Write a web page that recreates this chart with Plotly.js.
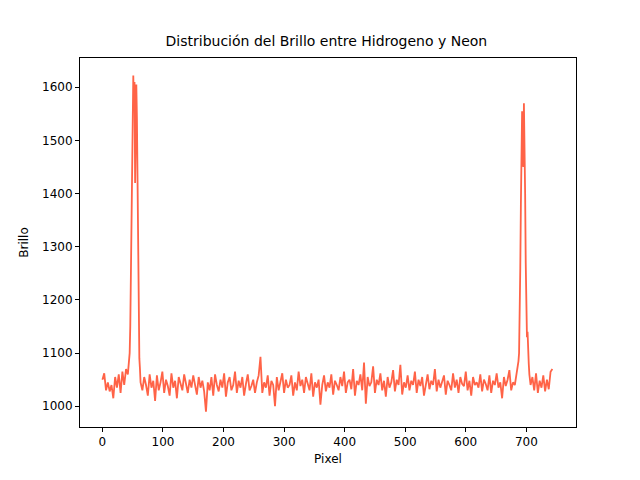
<!DOCTYPE html>
<html><head><meta charset="utf-8">
<script src="https://cdn.plot.ly/plotly-3.0.1.min.js"></script>
<style>body{margin:0}</style></head>
<body><div id="plot" style="width:640px;height:480px"></div>
<script>
// pixel positions (step 3 in the flat parts, step 1 across the two lines)
var startX = [0,3,6,9,12,15,18,21,24,27,30,33,36,39,42];
var startY = [1050,1062,1030,1045,1028,1040,1015,1055,1035,1060,1025,1065,1040,1070,1060];

var peak1X = [44,45,46,47,48,49,50,51,52,53,54,55,56,57,58,59,60,61,62];
var peak1Y = [1080,1100,1150,1250,1380,1480,1560,1622,1560,1610,1420,1600,1605,1540,1380,1230,1130,1090,1070];

var midY = [1045,1030,1055,1040,1020,1060,1035,1048,1010,1058,1030,1045,1065,1025,1050,1038,1020,1062,1035,1048,
            1015,1055,1040,1030,1060,1042,1025,1050,1035,1058,1040,1022,1055,1035,1048,1028,990,1045,1030,1055,
            1020,1060,1040,1028,1050,1035,1062,1018,1045,1055,1030,1040,1065,1025,1048,1035,1055,1020,1042,1060,
            1030,1038,1050,1025,1045,1058,1093,1025,1045,1035,1058,1020,1048,1040,1000,1055,1030,1045,1062,1025,
            1050,1035,1040,1058,1020,1045,1030,1065,1038,1050,1025,1055,1040,1030,1062,1018,1045,1035,1050,1003,
            1040,1058,1028,1045,1035,1060,1022,1048,1040,1030,1055,1038,1065,1025,1045,1050,1032,1070,1020,1048,
            1040,1060,1030,1082,1005,1055,1038,1045,1075,1025,1050,1040,1062,1030,1048,1018,1055,1035,1045,1068,
            1028,1050,1040,1078,1022,1045,1035,1058,1030,1048,1040,1065,1025,1050,1038,1055,1020,1045,1060,1032,
            1048,1040,1070,1028,1050,1035,1045,1058,1022,1048,1040,1030,1062,1035,1050,1025,1055,1042,1038,1065,
            1030,1048,1020,1055,1040,1045,1035,1060,1028,1050,1042,1030,1058,1025,1048,1040,1062,1035,1045,1015,
            1055,1038,1050,1068,1030,1045,1040,1060];

var peak2X = [686,687,688,689,690,691,692,693,694,695,696,697,698,699,700,701,702,703,704,705];
var peak2Y = [1075,1085,1100,1150,1260,1380,1480,1555,1470,1450,1570,1510,1400,1270,1180,1130,1140,1090,1080,1060];

var endY = [1040,1055,1030,1062,1025,1048,1035,1058,1028,1050,1032,1065,1070];

var pixel = [], brillo = [];
startX.forEach(function (x, i) { pixel.push(x); brillo.push(startY[i]); });
peak1X.forEach(function (x, i) { pixel.push(x); brillo.push(peak1Y[i]); });
midY.forEach(function (v, i) { pixel.push(63 + 3 * i); brillo.push(v); });
peak2X.forEach(function (x, i) { pixel.push(x); brillo.push(peak2Y[i]); });
endY.forEach(function (v, i) { pixel.push(707 + 3 * i); brillo.push(v); });

var trace = {
  x: pixel, y: brillo, mode: 'lines', type: 'scatter',
  line: { color: '#ff6347', width: 1.8 }
};

var axis = {
  showgrid: false, zeroline: false, showline: true, mirror: true,
  linecolor: 'black', linewidth: 1, ticks: 'outside', ticklen: 4,
  tickcolor: 'black', tickfont: { size: 12, color: 'black' }
};

var layout = {
  width: 640, height: 480,
  margin: { l: 80, r: 64, t: 58, b: 53 },
  font: { family: 'DejaVu Sans', color: 'black' },
  title: { text: 'Distribución del Brillo entre Hidrogeno y Neon', font: { size: 14 }, x: 0.51, y: 0.925 },
  xaxis: Object.assign({}, axis, { range: [-37, 782], tickvals: [0,100,200,300,400,500,600,700],
    title: { text: 'Pixel', font: { size: 12 }, standoff: 6 } }),
  yaxis: Object.assign({}, axis, { range: [961, 1655], tickvals: [1000,1100,1200,1300,1400,1500,1600],
    title: { text: 'Brillo', font: { size: 12 }, standoff: 10 } }),
  showlegend: false,
  plot_bgcolor: 'white', paper_bgcolor: 'white'
};

Plotly.newPlot('plot', [trace], layout, { displayModeBar: false });
</script></body></html>
